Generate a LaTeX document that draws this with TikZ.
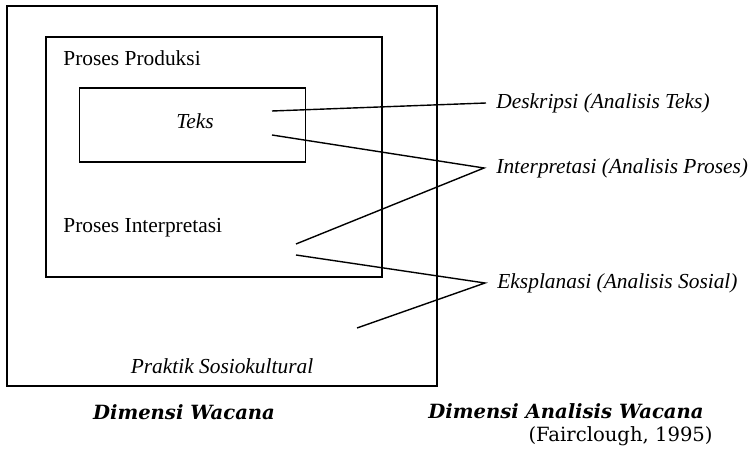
\documentclass[tikz,border=0pt]{standalone}
\usepackage{fontspec}
\setmainfont{Liberation Serif}
\newfontfamily\capfont{DejaVu Serif}
\begin{document}
\begin{tikzpicture}[x=0.5pt,y=-0.5pt,
  frame/.style={draw, line width=0.7pt, minimum width=#1, inner sep=0pt},
  conn/.style={line width=0.7pt},
  lbl/.style={anchor=west, inner sep=0pt, font=\fontsize{10.7}{13}\selectfont\itshape},
  txt/.style={inner sep=0pt, font=\fontsize{10.7}{13}\selectfont},
  capt/.style={inner sep=0pt, font=\capfont\fontsize{9.8}{12}\selectfont}]
\useasboundingbox (0,0) rectangle (752,454);
\node[frame=215pt, minimum height=190pt] (outer) at (222,196) {};
\node[frame=168pt, minimum height=120pt] (middle) at (214,157) {};
\node[frame=113pt, minimum height=37pt] (inner) at (192.5,125) {};
\node[txt, anchor=west] (prod) at (63,58) {Proses Produksi};
\node[txt, font=\fontsize{10.7}{13}\selectfont\itshape] (teks) at (195,121) {Teks};
\node[txt, anchor=west] (interp) at (63,228) {Proses Interpretasi};
\node[txt, font=\fontsize{10.7}{13}\selectfont\itshape] (prak) at (222,366) {Praktik Sosiokultural};
\node[lbl] (desk) at (496,103) {Deskripsi (Analisis Teks)};
\node[lbl] (intp) at (496,168) {Interpretasi (Analisis Proses)};
\node[lbl] (eksp) at (497,283) {Eksplanasi (Analisis Sosial)};
\coordinate (a1) at (272,111);
\coordinate (a2) at (272,135);
\coordinate (b1) at (296,244);
\coordinate (b2) at (296,255);
\coordinate (c1) at (357,328);
\coordinate (d) at (486,103);
\coordinate (i) at (484,168);
\coordinate (e) at (485,283);
\draw[conn] (a1) -- (d);
\draw[conn] (a2) -- (i) -- (b1);
\draw[conn] (b2) -- (e) -- (c1);
\node[capt, font=\capfont\fontsize{9.8}{12}\selectfont\bfseries\itshape] (dw) at (184,412) {Dimensi Wacana};
\node[capt, font=\capfont\fontsize{9.8}{12}\selectfont\bfseries\itshape, anchor=east] (daw) at (704,411) {Dimensi Analisis Wacana};
\node[capt, anchor=east] (fc) at (713,436) {(Fairclough, 1995)};
\end{tikzpicture}
\end{document}
